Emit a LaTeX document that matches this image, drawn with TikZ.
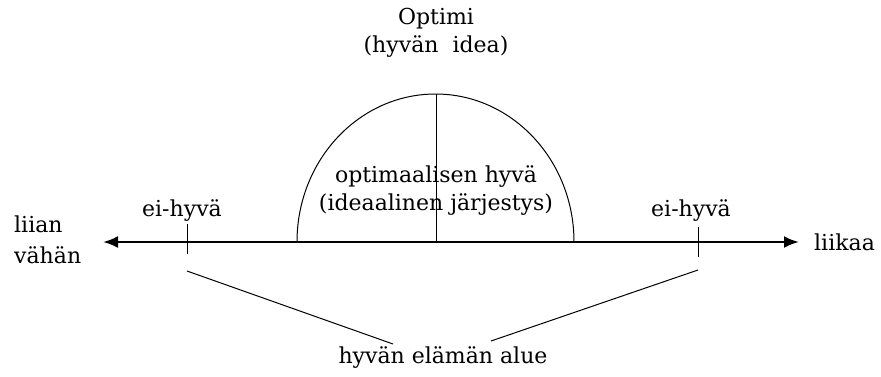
\documentclass[tikz,border=0pt]{standalone}
\usepackage{fontspec}
\setmainfont{DejaVu Serif}
\usetikzlibrary{arrows.meta}
\begin{document}
\begin{tikzpicture}[x=1pt,y=-1pt,
  lbl/.style={inner sep=0pt,font=\fontsize{22}{26}\selectfont,align=center},
  axisline/.style={line width=2.4pt,{Latex[length=15pt,width=12pt]}-{Latex[length=15pt,width=12pt]}},
  thin/.style={line width=1pt},
  tickline/.style={line width=1pt}]
\useasboundingbox (0,0) rectangle (881,376);
% axis
\coordinate (AL) at (103,242);
\coordinate (AR) at (799,242);
\draw[axisline] (AL) -- (AR);
% semicircle
\coordinate (SL) at (297,242);
\coordinate (SR) at (574,242);
\coordinate (ST) at (436,94);
\coordinate (SB) at (436,242);
\draw[thin] (SL) arc[start angle=180,end angle=360,x radius=138.5,y radius=148];
\draw[thin] (ST) -- (SB);
% ticks
\coordinate (T1a) at (187,224); \coordinate (T1b) at (187,254);
\coordinate (T2a) at (698,227); \coordinate (T2b) at (698,257);
\draw[tickline] (T1a) -- (T1b);
\draw[tickline] (T2a) -- (T2b);
% bracket lines
\coordinate (B1a) at (187,271); \coordinate (B1b) at (393,344);
\coordinate (B2a) at (698,270); \coordinate (B2b) at (491,341);
\draw[thin] (B1a) -- (B1b);
\draw[thin] (B2a) -- (B2b);
% labels
\node[lbl] (opt) at (436,19) {Optimi};
\node[lbl] (idea) at (436,47) {(hyvän\ \ idea)};
\node[lbl] (oh) at (436,177) {optimaalisen hyvä};
\node[lbl] (ij) at (436,205) {(ideaalinen järjestys)};
\node[lbl] (eh1) at (182,211) {ei-hyvä};
\node[lbl] (eh2) at (691,211) {ei-hyvä};
\node[lbl,anchor=west] (liian) at (14,224) {liian};
\node[lbl,anchor=west] (vahan) at (14,255) {vähän};
\node[lbl,anchor=west] (liikaa) at (814,242) {liikaa};
\node[lbl] (alue) at (443,358) {hyvän elämän alue};
\end{tikzpicture}
\end{document}
